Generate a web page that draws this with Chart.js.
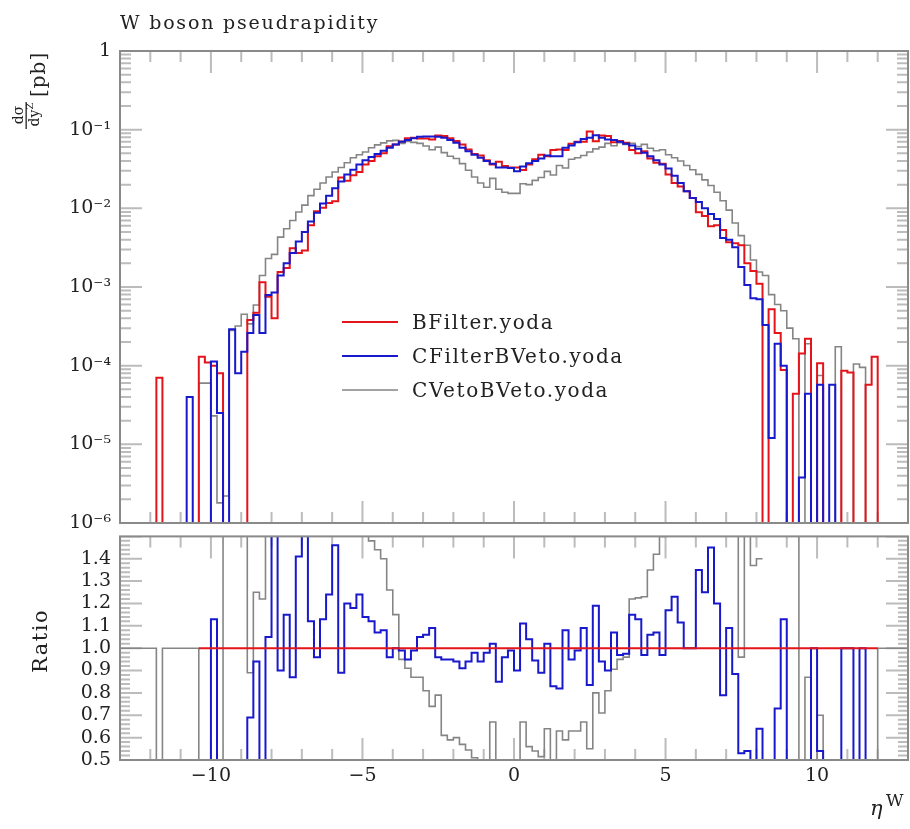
<!DOCTYPE html>
<html>
<head>
<meta charset="utf-8">
<title>W boson pseudrapidity</title>
<script src="https://cdn.jsdelivr.net/npm/chart.js@4.4.1/dist/chart.umd.min.js"></script>
<style>
  html, body { margin: 0; padding: 0; background: #fff; }
  #wrap { position: relative; width: 910px; height: 829px; overflow: hidden; }
  #mainCanvas { position: absolute; left: 0; top: 0; }
  #ratioCanvas { position: absolute; left: 0; top: 516px; }
</style>
</head>
<body>
<div id="wrap">
  <canvas id="mainCanvas" width="910" height="545"></canvas>
  <canvas id="ratioCanvas" width="910" height="313"></canvas>
</div>
<script>
// 130 bins of width 0.2 from -13 to 13
const etaLow = -13;
const etaHigh = 13;
const binWidth = 0.2;
const nBins = 130;

// main panel, dsigma/dy [pb], one value per bin (0 = empty bin)
const bFilter = [
  0, 0, 0, 0, 0, 0, 7e-5, 0, 0, 0,
  0, 0, 0, 1.3e-4, 1.1e-4, 1.0e-4, 8e-5, 0, 0, 0,
  0, 3.8e-4, 4.7e-4, 1.15e-3, 7.5e-4, 4.0e-4, 1.55e-3, 1.74e-3, 3.1e-3, 2.7e-3,
  2.9e-3, 6.1e-3, 9.2e-3, 1.02e-2, 1.17e-2, 1.23e-2, 2.47e-2, 2.25e-2, 2.63e-2, 2.9e-2,
  3.6e-2, 4.0e-2, 4.6e-2, 5.0e-2, 6.15e-2, 6.5e-2, 7.07e-2, 7.8e-2, 7.9e-2, 7.7e-2,
  7.7e-2, 7.5e-2, 8.4e-2, 8.3e-2, 7.8e-2, 7.2e-2, 6.5e-2, 5.6e-2, 4.9e-2, 4.7e-2,
  4.1e-2, 3.6e-2, 3.9e-2, 3.45e-2, 3.3e-2, 3.3e-2, 3.06e-2, 3.6e-2, 4.2e-2, 4.8e-2,
  4.6e-2, 5.5e-2, 5.6e-2, 5.5e-2, 6.6e-2, 7.0e-2, 7.0e-2, 9.5e-2, 7.1e-2, 8.4e-2,
  8.3e-2, 6.9e-2, 7.2e-2, 6.8e-2, 5.5e-2, 5.0e-2, 5.3e-2, 4.3e-2, 3.8e-2, 3.7e-2,
  2.7e-2, 2.1e-2, 1.9e-2, 1.65e-2, 1.35e-2, 8.9e-3, 8.0e-3, 5.9e-3, 6.1e-3, 5.3e-3,
  3.7e-3, 3.6e-3, 3.4e-3, 2.0e-3, 1.6e-3, 1.1e-3, 0, 5.2e-4, 2.6e-4, 8.8e-5,
  0, 4.4e-5, 1.43e-4, 2.2e-4, 0, 1.07e-4, 0, 0, 0, 8.6e-5,
  8.2e-5, 0, 0, 5.7e-5, 1.3e-4, 0, 0, 0, 0, 0
];
const cFilterBVeto = [
  0, 0, 0, 0, 0, 0, 0, 0, 0, 0,
  0, 4e-5, 0, 0, 0, 1.13e-4, 2.5e-5, 0, 2.9e-4, 8e-5,
  1.5e-4, 2.6e-4, 4.4e-4, 2.6e-4, 7.9e-4, 8.5e-4, 1.4e-3, 2.0e-3, 2.7e-3, 3.8e-3,
  5.0e-3, 6.8e-3, 8.8e-3, 1.15e-2, 1.45e-2, 1.8e-2, 2.2e-2, 2.7e-2, 3.1e-2, 3.6e-2,
  4.1e-2, 4.5e-2, 4.9e-2, 5.4e-2, 5.9e-2, 6.5e-2, 7.0e-2, 7.4e-2, 7.8e-2, 8.1e-2,
  8.2e-2, 8.2e-2, 8.1e-2, 7.9e-2, 7.4e-2, 6.8e-2, 5.9e-2, 5.3e-2, 4.8e-2, 4.4e-2,
  4.0e-2, 3.7e-2, 3.3e-2, 3.3e-2, 3.25e-2, 2.95e-2, 3.4e-2, 3.75e-2, 4.0e-2, 4.3e-2,
  4.7e-2, 4.6e-2, 4.6e-2, 5.9e-2, 6.3e-2, 6.9e-2, 7.6e-2, 7.9e-2, 8.5e-2, 7.9e-2,
  7.5e-2, 7.4e-2, 7.0e-2, 6.6e-2, 6.3e-2, 5.7e-2, 5.1e-2, 4.6e-2, 4.1e-2, 3.6e-2,
  3.2e-2, 2.6e-2, 2.1e-2, 1.65e-2, 1.35e-2, 1.2e-2, 1.0e-2, 8.5e-3, 7.3e-3, 4.2e-3,
  4.0e-3, 3.2e-3, 1.8e-3, 1.06e-3, 7.2e-4, 7.0e-4, 3.3e-4, 1.2e-5, 1.9e-4, 1.0e-4,
  0, 0, 3.8e-6, 4.4e-5, 0, 5.7e-5, 0, 5.7e-5, 0, 0,
  0, 0, 0, 0, 0, 0, 0, 0, 0, 0
];
const cVetoBVeto = [
  0, 0, 0, 0, 0, 0, 0, 0, 0, 0,
  0, 0, 0, 6e-5, 6e-5, 2.3e-5, 1.8e-6, 2.2e-6, 2.8e-4, 3.2e-4,
  4.5e-4, 3.4e-4, 5.9e-4, 1.4e-3, 2.3e-3, 2.6e-3, 4.3e-3, 5.5e-3, 7.0e-3, 9.0e-3,
  1.1e-2, 1.45e-2, 1.75e-2, 2.1e-2, 2.5e-2, 2.9e-2, 3.3e-2, 3.8e-2, 4.4e-2, 4.8e-2,
  5.2e-2, 5.9e-2, 6.4e-2, 6.8e-2, 7.2e-2, 7.3e-2, 6.7e-2, 7.1e-2, 6.9e-2, 6.7e-2,
  6.2e-2, 5.55e-2, 6.0e-2, 5.1e-2, 4.6e-2, 4.3e-2, 3.7e-2, 3.05e-2, 2.5e-2, 2.1e-2,
  1.85e-2, 2.4e-2, 1.75e-2, 1.6e-2, 1.55e-2, 1.55e-2, 2.05e-2, 2.0e-2, 2.27e-2, 2.47e-2,
  2.95e-2, 2.65e-2, 3.5e-2, 3.25e-2, 4.2e-2, 4.4e-2, 4.7e-2, 5.2e-2, 5.7e-2, 6.0e-2,
  6.7e-2, 6.25e-2, 6.85e-2, 6.5e-2, 6.7e-2, 6.1e-2, 6.5e-2, 5.8e-2, 5.4e-2, 5.55e-2,
  4.8e-2, 4.4e-2, 4.0e-2, 3.5e-2, 3.1e-2, 2.7e-2, 2.3e-2, 1.95e-2, 1.6e-2, 1.25e-2,
  9.5e-3, 6.5e-3, 4.5e-3, 3.4e-3, 2.2e-3, 1.55e-3, 1.4e-3, 8e-4, 6e-4, 5e-4,
  3e-4, 2.2e-4, 0, 1.9e-4, 0, 7.5e-5, 0, 0, 1.74e-4, 0,
  0, 1.05e-4, 9.5e-5, 0, 0, 0, 0, 0, 0, 0
];

// ratio panel (to BFilter), null = not drawn
const ratioBFilter = [
  null, null, null, null, null, null, null, null, null, null,
  null, null, null, 1, 1, 1, 1, 1, 1, 1,
  1, 1, 1, 1, 1, 1, 1, 1, 1, 1,
  1, 1, 1, 1, 1, 1, 1, 1, 1, 1,
  1, 1, 1, 1, 1, 1, 1, 1, 1, 1,
  1, 1, 1, 1, 1, 1, 1, 1, 1, 1,
  1, 1, 1, 1, 1, 1, 1, 1, 1, 1,
  1, 1, 1, 1, 1, 1, 1, 1, 1, 1,
  1, 1, 1, 1, 1, 1, 1, 1, 1, 1,
  1, 1, 1, 1, 1, 1, 1, 1, 1, 1,
  1, 1, 1, 1, 1, 1, 1, 1, 1, 1,
  1, 1, 1, 1, 1, 1, 1, 1, 1, 1,
  1, 1, 1, 1, 1, null, null, null, null, null
];
const ratioCFilter = [
  null, null, null, null, null, null, null, null, null, null,
  null, null, null, null, 0, 1.13, 0, 0, 0, 0,
  0, 0.69, 0.94, 0, 1.05, 2.1, 0.90, 1.15, 0.87, 1.41,
  1.7, 1.12, 0.96, 1.13, 1.24, 1.46, 0.89, 1.20, 1.18, 1.24,
  1.14, 1.12, 1.07, 1.08, 0.96, 1.00, 0.99, 0.95, 0.99, 1.05,
  1.06, 1.09, 0.96, 0.95, 0.95, 0.94, 0.91, 0.94, 0.98, 0.94,
  0.98, 1.02, 0.85, 0.96, 0.99, 0.90, 1.11, 1.04, 0.945, 0.89,
  1.02, 0.83, 0.82, 1.08, 0.95, 0.99, 1.09, 0.835, 1.19, 0.94,
  0.90, 1.07, 0.97, 0.975, 1.15, 1.13, 0.97, 1.06, 1.07, 0.97,
  1.17, 1.23, 1.115, 1.0, 1.0, 1.35, 1.25, 1.45, 1.20, 0.79,
  1.09, 0.885, 0.53, 0.54, 0.45, 0.64, 0, 0, 0.73, 1.13,
  0, 0, 0, 0, 1.0, 0.54, 0, 0, 0, 1,
  1, 0, 1, 0, null, null, null, null, null, null
];
const ratioCVeto = [
  1, 1, 1, 1, 1, 1, 0, 1, 1, 1,
  1, 1, 1, 0, 0, 0, 0, 5, 5, 5,
  5, 0.89, 1.25, 1.22, 3.1, 6.5, 2.8, 3.2, 2.3, 3.3,
  3.8, 2.4, 1.9, 2.1, 2.1, 2.4, 1.6, 1.7, 1.67, 1.66,
  1.6, 1.48, 1.44, 1.40, 1.26, 1.15, 0.95, 0.91, 0.87, 0.87,
  0.81, 0.74, 0.79, 0.61, 0.59, 0.60, 0.57, 0.545, 0.51, 0.45,
  0.45, 0.67, 0.45, 0.46, 0.47, 0.47, 0.67, 0.56, 0.54, 0.515,
  0.64, 0.48, 0.63, 0.59, 0.63, 0.63, 0.67, 0.55, 0.80, 0.71,
  0.81, 0.906, 0.95, 0.96, 1.22, 1.225, 1.23, 1.35, 1.42, 1.50,
  1.78, 2.1, 2.1, 2.1, 2.3, 3.0, 2.9, 3.3, 2.6, 2.4,
  2.6, 1.9, 0.96, 1.6, 1.37, 1.40, null, null, null, null,
  null, 5, 0, 0.87, 0, 0.70, 0, 0, 0, 0,
  0, 0, 0, 0, 0, 1, 1, 1, 1, 1
];

// axis labels
const mainTickValues = [1e-6, 1e-5, 1e-4, 1e-3, 1e-2, 1e-1, 1];
const mainTickLabels = ['10⁻⁶', '10⁻⁵', '10⁻⁴', '10⁻³', '10⁻²', '10⁻¹', '1'];
const ratioTickValues = [0.5, 0.6, 0.7, 0.8, 0.9, 1.0, 1.1, 1.2, 1.3, 1.4];
const ratioTickLabels = ['0.5', '0.6', '0.7', '0.8', '0.9', '1.0', '1.1', '1.2', '1.3', '1.4'];
const xTickValues = [-10, -5, 0, 5, 10];
const xTickLabels = ['−10', '−5', '0', '5', '10'];

const series = [
  { label: 'BFilter.yoda', color: '#e3141a', width: 2, main: bFilter, ratio: ratioBFilter, mainOrder: 1, ratioOrder: 0 },
  { label: 'CFilterBVeto.yoda', color: '#1818cc', width: 2, main: cFilterBVeto, ratio: ratioCFilter, mainOrder: 0, ratioOrder: 1 },
  { label: 'CVetoBVeto.yoda', color: '#858585', width: 1.6, main: cVetoBVeto, ratio: ratioCVeto, mainOrder: 2, ratioOrder: 2 }
];

const binEdges = [];
for (let i = 0; i <= nBins; i++) binEdges.push(+(etaLow + i * binWidth).toFixed(1));

// histogram outline: two points per bin, empty bins pushed below the axis
function toSteps(values, floor) {
  const pts = [];
  values.forEach((v, i) => {
    if (v === null) {
      pts.push({ x: binEdges[i], y: null });
      return;
    }
    const y = v > 0 ? v : floor;
    pts.push({ x: binEdges[i], y: y }, { x: binEdges[i + 1], y: y });
  });
  return pts;
}

// tick marks drawn inside the frame, rivet style
const xMarks = [];
for (let v = etaLow; v <= etaHigh; v++) xMarks.push({ v: v, len: v % 5 === 0 ? 22 : 11 });
const mainMarks = [];
for (let d = -6; d <= 0; d++) {
  mainMarks.push({ v: Math.pow(10, d), len: 22 });
  if (d < 0) for (let k = 2; k <= 9; k++) mainMarks.push({ v: k * Math.pow(10, d), len: 11 });
}
const ratioMarks = [];
for (let j = 0; j <= 50; j++) ratioMarks.push({ v: 0.5 + 0.02 * j, len: j % 5 === 0 ? 22 : 10 });

function makeFrame(id, yMarks, drawExtras) {
  return {
    id: id,
    beforeDatasetsDraw(chart) {
      const { ctx, chartArea: a, scales } = chart;
      ctx.save();
      ctx.beginPath();
      ctx.rect(a.left, a.top, a.right - a.left, a.bottom - a.top);
      ctx.clip();
      ctx.strokeStyle = '#bcbcbc';
      ctx.lineWidth = 2;
      ctx.beginPath();
      xMarks.forEach(t => {
        const px = scales.x.getPixelForValue(t.v);
        ctx.moveTo(px, a.top); ctx.lineTo(px, a.top + t.len);
        ctx.moveTo(px, a.bottom); ctx.lineTo(px, a.bottom - t.len);
      });
      yMarks.forEach(t => {
        const py = scales.y.getPixelForValue(t.v);
        ctx.moveTo(a.left, py); ctx.lineTo(a.left + t.len, py);
        ctx.moveTo(a.right, py); ctx.lineTo(a.right - t.len, py);
      });
      ctx.stroke();
      ctx.restore();
    },
    afterDatasetsDraw(chart) {
      const { ctx, chartArea: a } = chart;
      ctx.save();
      ctx.strokeStyle = '#8a8a8a';
      ctx.lineWidth = 2;
      ctx.strokeRect(a.left, a.top, a.right - a.left, a.bottom - a.top);
      ctx.restore();
    },
    afterDraw(chart) {
      chart.ctx.save();
      drawExtras(chart.ctx);
      chart.ctx.restore();
    }
  };
}

const tickFont = { family: 'DejaVu Serif', size: 19 };
const textColor = '#222';

function baseOptions(padding) {
  return {
    responsive: false,
    animation: false,
    events: [],
    layout: { padding: padding },
    elements: { point: { radius: 0 }, line: { tension: 0, fill: false } },
    plugins: { legend: { display: false }, tooltip: { enabled: false } }
  };
}

// main panel
const mainOptions = baseOptions({ top: 51, right: 2, bottom: 22, left: 0 });
mainOptions.scales = {
  x: { type: 'linear', min: etaLow, max: etaHigh, display: false },
  y: {
    type: 'logarithmic', min: 1e-6, max: 1,
    afterFit(scale) { scale.width = 120; },
    afterBuildTicks(scale) { scale.ticks = mainTickValues.map(v => ({ value: v })); },
    grid: { display: false, drawTicks: false },
    border: { display: false },
    ticks: { autoSkip: false, padding: 9, color: textColor, font: tickFont, callback: (v, i) => mainTickLabels[i] }
  }
};

new Chart(document.getElementById('mainCanvas'), {
  type: 'line',
  data: {
    datasets: series.map(s => ({
      label: s.label,
      data: toSteps(s.main, 1e-9),
      borderColor: s.color,
      borderWidth: s.width,
      order: s.mainOrder,
      clip: 0,
      spanGaps: false
    }))
  },
  options: mainOptions,
  plugins: [makeFrame('mainFrame', mainMarks, ctx => {
    ctx.fillStyle = textColor;
    ctx.textBaseline = 'alphabetic';
    ctx.font = '19px "DejaVu Serif"';
    ctx.letterSpacing = '1.8px';
    ctx.fillText('W boson pseudrapidity', 120, 29);

    // legend
    ctx.font = '20px "DejaVu Serif"';
    ctx.letterSpacing = '1.6px';
    ctx.textBaseline = 'middle';
    series.forEach((s, k) => {
      const y = 322 + k * 34;
      ctx.strokeStyle = s.color;
      ctx.lineWidth = s.width;
      ctx.beginPath();
      ctx.moveTo(342, y);
      ctx.lineTo(398, y);
      ctx.stroke();
      ctx.fillText(s.label, 412, y + 2);
    });

    // y title: dsigma/dy^Z [pb], rotated
    ctx.rotate(-Math.PI / 2);
    ctx.textBaseline = 'alphabetic';
    ctx.textAlign = 'left';
    ctx.font = '20px "DejaVu Serif"';
    ctx.letterSpacing = '1px';
    ctx.fillText('[pb]', -97, 45);
    ctx.letterSpacing = '0px';
    ctx.textAlign = 'center';
    ctx.font = '14px "DejaVu Serif"';
    ctx.fillText('dσ', -115, 23);
    ctx.fillRect(-129, 25.5, 27, 1.3);
    ctx.fillText('dy', -118, 39);
    ctx.font = '10px "DejaVu Serif"';
    ctx.fillText('Z', -106, 33);
  })]
});

// ratio panel
const ratioOptions = baseOptions({ top: 7, right: 2, bottom: 0, left: 0 });
ratioOptions.scales = {
  x: {
    type: 'linear', min: etaLow, max: etaHigh,
    afterFit(scale) { scale.height = 69; },
    afterBuildTicks(scale) { scale.ticks = xTickValues.map(v => ({ value: v })); },
    grid: { display: false, drawTicks: false },
    border: { display: false },
    ticks: { autoSkip: false, maxRotation: 0, padding: 5, color: textColor, font: tickFont, callback: (v, i) => xTickLabels[i] }
  },
  y: {
    type: 'linear', min: 0.5, max: 1.5,
    afterFit(scale) { scale.width = 120; },
    afterBuildTicks(scale) { scale.ticks = ratioTickValues.map(v => ({ value: v })); },
    grid: { display: false, drawTicks: false },
    border: { display: false },
    ticks: { autoSkip: false, padding: 9, color: textColor, font: tickFont, callback: (v, i) => ratioTickLabels[i] }
  }
};

new Chart(document.getElementById('ratioCanvas'), {
  type: 'line',
  data: {
    datasets: series.map(s => ({
      label: s.label,
      data: toSteps(s.ratio, 0),
      borderColor: s.color,
      borderWidth: s.width,
      order: s.ratioOrder,
      clip: 0,
      spanGaps: false
    }))
  },
  options: ratioOptions,
  plugins: [makeFrame('ratioFrame', ratioMarks, ctx => {
    ctx.fillStyle = textColor;
    ctx.save();
    ctx.translate(42, 125);
    ctx.rotate(-Math.PI / 2);
    ctx.textAlign = 'center';
    ctx.textBaseline = 'middle';
    ctx.font = '21px "DejaVu Serif"';
    ctx.letterSpacing = '1.5px';
    ctx.fillText('Ratio', 0, 0);
    ctx.restore();

    ctx.textBaseline = 'alphabetic';
    ctx.font = 'italic 21px "DejaVu Serif"';
    ctx.fillText('η', 870, 299);
    ctx.font = '17px "DejaVu Serif"';
    ctx.fillText('W', 886, 290);
  })]
});
</script>
</body>
</html>
